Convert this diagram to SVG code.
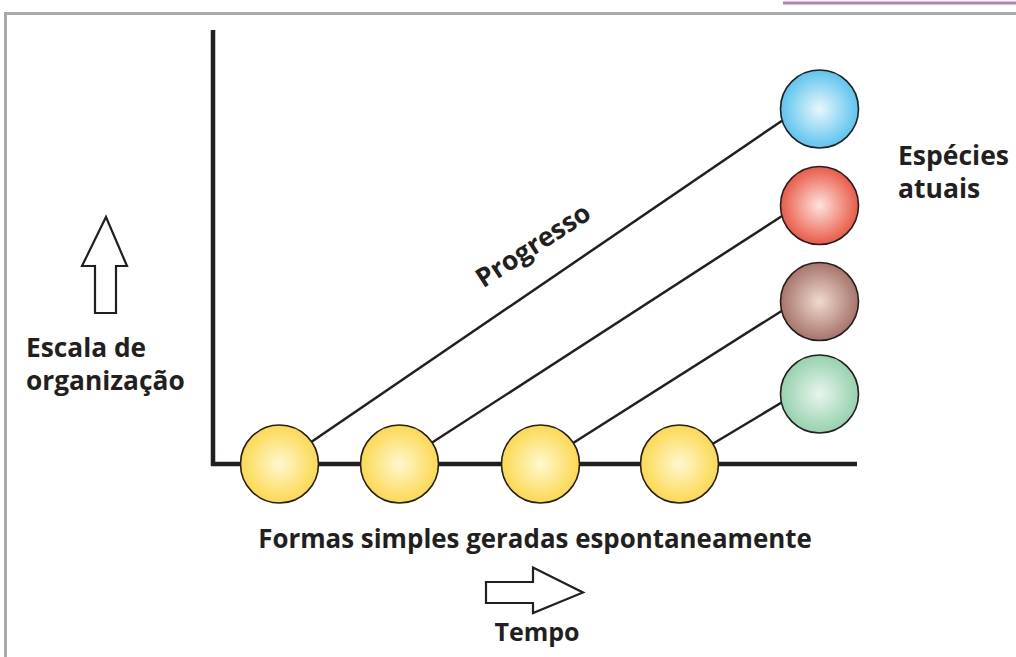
<svg xmlns="http://www.w3.org/2000/svg" width="1016" height="657" viewBox="0 0 1016 657">
<style>
.lbl{font-family:"Open Sans","Noto Sans","Liberation Sans",sans-serif;font-weight:700;fill:#231f20}
.ball{stroke:#231f20;stroke-width:1.6}
.conn{stroke:#231f20;stroke-width:2.5;fill:none}
.axis{stroke:#231f20;stroke-width:4.5;fill:none}
.hollow{fill:#fff;stroke:#231f20;stroke-width:2.2;stroke-linejoin:miter}
</style>
<defs>
<radialGradient id="gY" cx="0.5" cy="0.5" r="0.5"><stop offset="0" stop-color="#fff8cf"/><stop offset="1" stop-color="#fcd850"/></radialGradient>
<radialGradient id="gB" cx="0.5" cy="0.5" r="0.5"><stop offset="0" stop-color="#e8f7fd"/><stop offset="1" stop-color="#5cc4ee"/></radialGradient>
<radialGradient id="gR" cx="0.5" cy="0.5" r="0.5"><stop offset="0" stop-color="#fde3de"/><stop offset="1" stop-color="#e95a47"/></radialGradient>
<radialGradient id="gBr" cx="0.5" cy="0.5" r="0.5"><stop offset="0" stop-color="#f0d9d0"/><stop offset="1" stop-color="#a6746a"/></radialGradient>
<radialGradient id="gG" cx="0.5" cy="0.5" r="0.5"><stop offset="0" stop-color="#e8f5ee"/><stop offset="1" stop-color="#96d1ad"/></radialGradient>
</defs>
<rect width="1016" height="657" fill="#fff"/>
<g id="frame">
<line x1="783" y1="3" x2="1016" y2="3" stroke="#b27fc2" stroke-width="3"/>
<polyline points="5.5,657 5.5,13.5 1016,13.5" fill="none" stroke="#a7a9ac" stroke-width="3"/>
</g>
<g id="axes">
<polyline class="axis" points="213,30 213,464 857,464"/>
</g>
<g id="connectors">
<line class="conn" x1="279" y1="464" x2="782" y2="120.7"/>
<line class="conn" x1="399" y1="464" x2="782" y2="216"/>
<line class="conn" x1="540" y1="464" x2="782" y2="310.7"/>
<line class="conn" x1="679" y1="464" x2="782" y2="402.3"/>
</g>
<g id="form1"><circle class="ball" cx="279.5" cy="464" r="39" fill="url(#gY)"/></g>
<g id="form2"><circle class="ball" cx="399.5" cy="464" r="39" fill="url(#gY)"/></g>
<g id="form3"><circle class="ball" cx="540.5" cy="464" r="39" fill="url(#gY)"/></g>
<g id="form4"><circle class="ball" cx="679.5" cy="464" r="39" fill="url(#gY)"/></g>
<g id="species-blue"><circle class="ball" cx="819.5" cy="109" r="39" fill="url(#gB)"/></g>
<g id="species-red"><circle class="ball" cx="819.5" cy="205.5" r="39" fill="url(#gR)"/></g>
<g id="species-brown"><circle class="ball" cx="819.5" cy="301.5" r="39" fill="url(#gBr)"/></g>
<g id="species-green"><circle class="ball" cx="819.5" cy="394" r="39" fill="url(#gG)"/></g>
<g id="label-progresso">
<text class="lbl" font-size="26.5" transform="translate(538,253) rotate(-33)" text-anchor="middle">Progresso</text>
</g>
<g id="label-especies">
<text class="lbl" font-size="26.5" x="898" y="165">Espécies</text>
<text class="lbl" font-size="26.5" x="898" y="198">atuais</text>
</g>
<g id="label-escala">
<path class="hollow" d="M106,217 L127,266 L116,266 L116,313 L95,313 L95,266 L82,266 Z"/>
<text class="lbl" font-size="26.3" x="26" y="357">Escala de</text>
<text class="lbl" font-size="26.3" x="26" y="390">organização</text>
</g>
<g id="label-formas">
<text class="lbl" font-size="25.9" x="535" y="548" text-anchor="middle">Formas simples geradas espontaneamente</text>
</g>
<g id="label-tempo">
<path class="hollow" d="M486,582 L533,582 L533,567.5 L583,592.5 L533,613 L533,603 L486,603 Z"/>
<text class="lbl" font-size="25" x="537" y="641" text-anchor="middle">Tempo</text>
</g>
</svg>
